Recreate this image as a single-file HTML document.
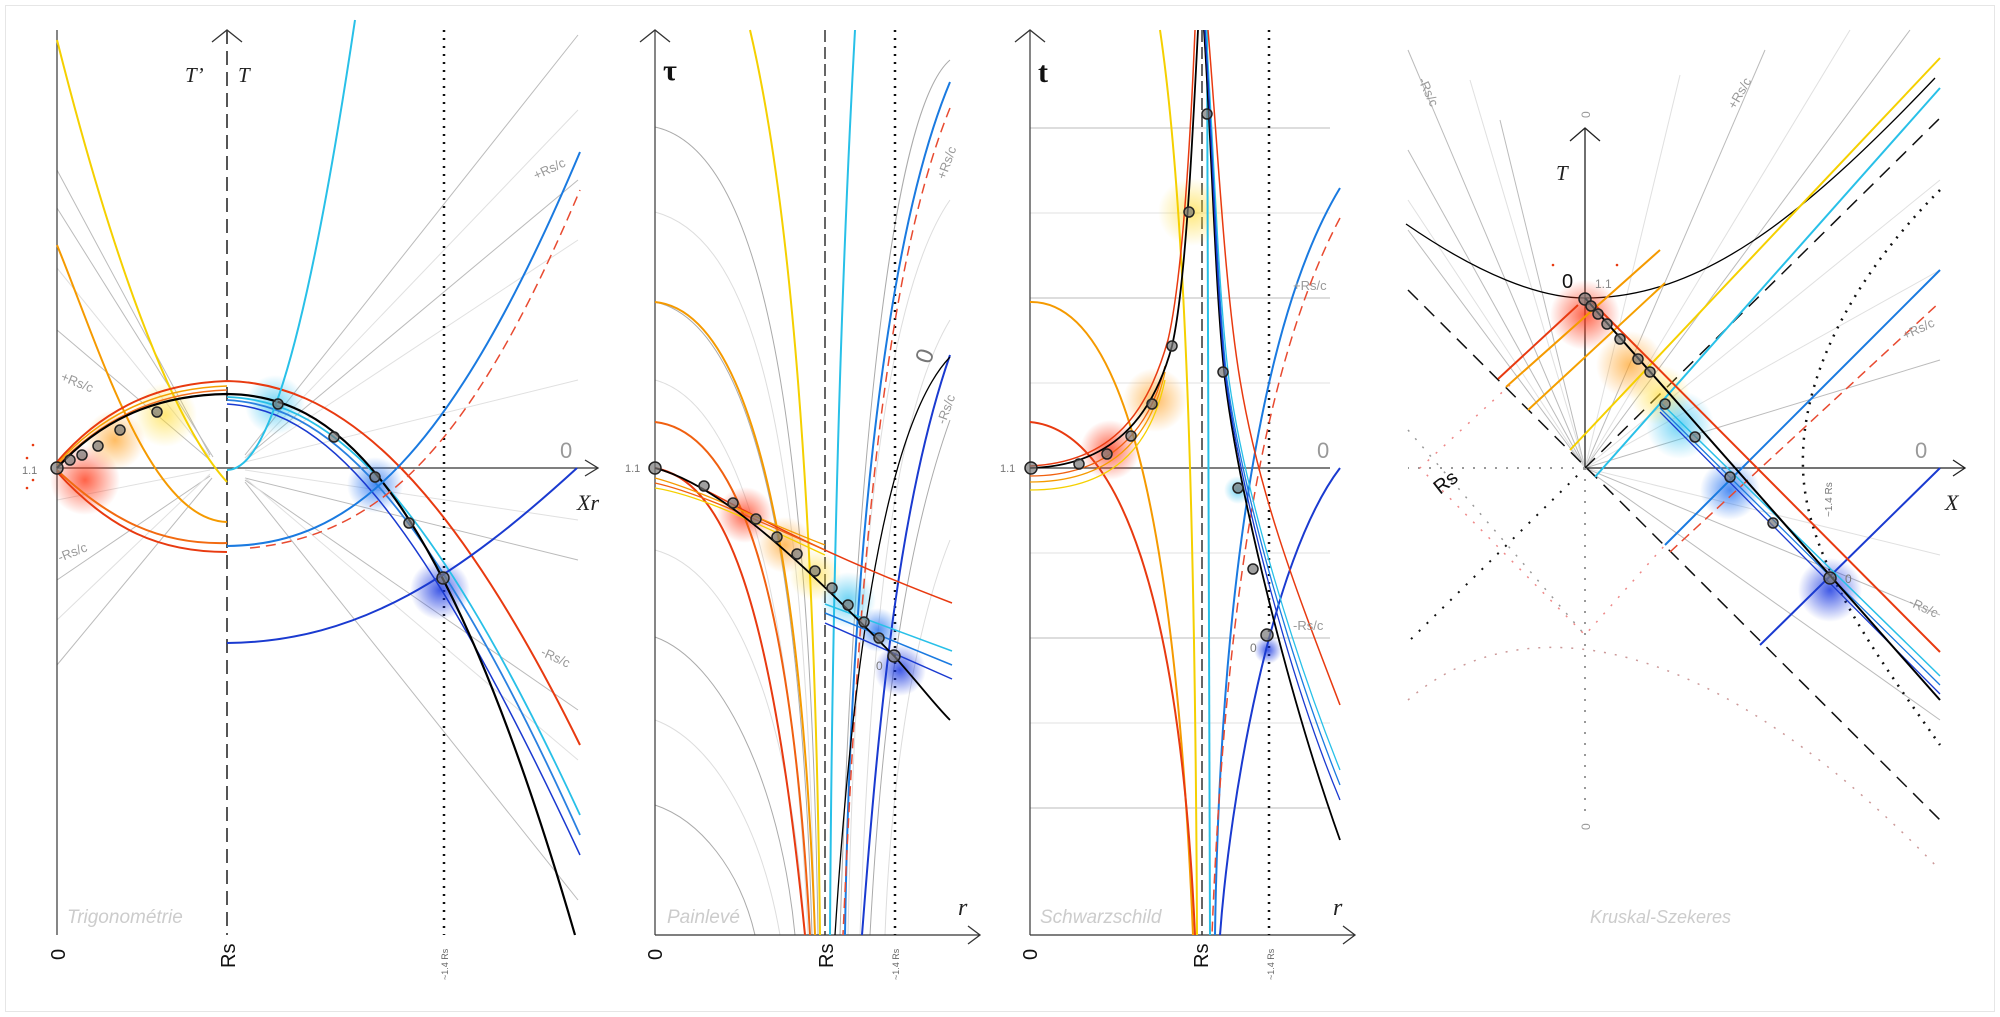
<!DOCTYPE html>
<html><head><meta charset="utf-8">
<style>
html,body{margin:0;padding:0;background:#fff;}
svg{display:block;}
text{font-family:"Liberation Sans",sans-serif;}
</style></head>
<body>
<svg width="2000" height="1017" viewBox="0 0 2000 1017" xmlns="http://www.w3.org/2000/svg">
<defs>
<radialGradient id="gr"><stop offset="0" stop-color="#ff3b1a" stop-opacity="0.8"/><stop offset="1" stop-color="#ff3b1a" stop-opacity="0"/></radialGradient>
<radialGradient id="go"><stop offset="0" stop-color="#ffa020" stop-opacity="0.7"/><stop offset="1" stop-color="#ffa020" stop-opacity="0"/></radialGradient>
<radialGradient id="gy"><stop offset="0" stop-color="#ffd820" stop-opacity="0.6"/><stop offset="1" stop-color="#ffd820" stop-opacity="0"/></radialGradient>
<radialGradient id="gc"><stop offset="0" stop-color="#30c0f0" stop-opacity="0.7"/><stop offset="1" stop-color="#30c0f0" stop-opacity="0"/></radialGradient>
<radialGradient id="gb"><stop offset="0" stop-color="#2070f0" stop-opacity="0.8"/><stop offset="1" stop-color="#2070f0" stop-opacity="0"/></radialGradient>
<radialGradient id="gd"><stop offset="0" stop-color="#1030e0" stop-opacity="0.8"/><stop offset="1" stop-color="#1030e0" stop-opacity="0"/></radialGradient>
</defs>
<rect x="5.5" y="5.5" width="1989" height="1006" fill="none" stroke="#e6e6e6"/>

<!-- ============ PANEL 1 : Trigonométrie ============ -->
<g fill="none">
 <g stroke="#bbb" stroke-width="1">
  <line x1="57" y1="170" x2="210" y2="455"/><line x1="57" y1="208" x2="213" y2="457"/>
  <line x1="57" y1="330" x2="210" y2="460"/><line x1="57" y1="580" x2="210" y2="476"/>
  <line x1="57" y1="665" x2="212" y2="478"/><line x1="245" y1="455" x2="578" y2="35"/>
  <line x1="245" y1="458" x2="578" y2="180"/><line x1="245" y1="478" x2="578" y2="560"/>
  <line x1="245" y1="482" x2="578" y2="900"/><line x1="245" y1="480" x2="578" y2="710"/>
 </g>
 <g stroke="#e0e0e0" stroke-width="1">
  <line x1="57" y1="268" x2="210" y2="457"/><line x1="57" y1="500" x2="210" y2="470"/>
  <line x1="57" y1="620" x2="210" y2="474"/><line x1="245" y1="458" x2="578" y2="110"/>
  <line x1="245" y1="460" x2="578" y2="240"/><line x1="245" y1="478" x2="578" y2="760"/>
  <line x1="245" y1="470" x2="578" y2="520"/><line x1="245" y1="462" x2="578" y2="380"/>
 </g>
 <line x1="57" y1="30" x2="57" y2="935" stroke="#444" stroke-width="1.3"/>
 <line x1="57" y1="468" x2="598" y2="468" stroke="#333" stroke-width="1.3"/>
 <polyline points="585,460 598,468 585,476" stroke="#333" stroke-width="1.3"/>
 <line x1="227" y1="30" x2="227" y2="935" stroke="#555" stroke-width="2" stroke-dasharray="14,7"/>
 <polyline points="212,42 227,30 242,42" stroke="#333" stroke-width="1.3"/>
 <line x1="444" y1="30" x2="444" y2="935" stroke="#111" stroke-width="2.5" stroke-dasharray="2,6"/>
 <circle cx="85" cy="480" r="35" fill="url(#gr)" stroke="none"/>
 <circle cx="115" cy="440" r="30" fill="url(#go)" stroke="none"/>
 <circle cx="165" cy="415" r="32" fill="url(#gy)" stroke="none"/>
 <circle cx="275" cy="405" r="30" fill="url(#gc)" stroke="none"/>
 <circle cx="375" cy="485" r="28" fill="url(#gb)" stroke="none"/>
 <circle cx="440" cy="590" r="30" fill="url(#gd)" stroke="none"/>
 <path d="M57,40 C110,250 170,420 227,482" stroke="#f5d000" stroke-width="2"/>
 <path d="M57,245 C100,350 150,520 227,522" stroke="#f59a00" stroke-width="2"/>
 <path d="M57,470 C110,520 160,545 227,543" stroke="#f26a10" stroke-width="2"/>
 <path d="M57,472 C110,530 160,552 227,552" stroke="#e83a10" stroke-width="2"/>
 <path d="M57,462 C110,400 170,383 227,381 C330,383 440,460 580,745" stroke="#e83a10" stroke-width="2"/>
 <path d="M57,464 C110,405 170,388 227,386" stroke="#f5a000" stroke-width="1.5"/>
 <path d="M57,466 C110,410 170,392 227,390" stroke="#f27020" stroke-width="1.5"/>
 <path d="M227,397 C320,400 420,470 580,815" stroke="#28c0e8" stroke-width="1.8"/>
 <path d="M227,400 C320,405 420,480 580,835" stroke="#2a80e0" stroke-width="1.8"/>
 <path d="M227,404 C320,410 410,490 580,855" stroke="#1a3ad0" stroke-width="1.5"/>
 <path d="M57,468 C110,410 170,395 227,394 C330,395 440,470 575,935" stroke="#000" stroke-width="2.2"/>
 <path d="M227,470 C260,470 300,390 355,20" stroke="#28c0e8" stroke-width="2"/>
 <path d="M227,546 C350,545 450,460 580,152" stroke="#1a7ae0" stroke-width="2"/>
 <path d="M250,548 C380,535 470,450 580,190" stroke="#e84a30" stroke-width="1.5" stroke-dasharray="10,6"/>
 <path d="M227,643 C360,642 460,575 577,468" stroke="#1a3ad0" stroke-width="2"/>
 <g stroke="#222" stroke-width="1.5" fill="#777" fill-opacity="0.7">
  <circle cx="57" cy="468" r="6"/><circle cx="70" cy="460" r="5"/><circle cx="82" cy="455" r="5"/><circle cx="98" cy="446" r="5"/><circle cx="120" cy="430" r="5"/><circle cx="157" cy="412" r="5"/>
  <circle cx="278" cy="404" r="5"/><circle cx="334" cy="437" r="5"/><circle cx="375" cy="477" r="5"/><circle cx="409" cy="523" r="5"/><circle cx="443" cy="578" r="6"/>
 </g>
 <g fill="#e83a10"><circle cx="27" cy="458" r="1.3"/><circle cx="33" cy="445" r="1.3"/><circle cx="27" cy="488" r="1.3"/><circle cx="33" cy="480" r="1.3"/></g>
</g>
<text x="22" y="474" font-size="11" fill="#777">1.1</text>
<text x="185" y="82" font-size="21" font-style="italic" fill="#222" style="font-family:'Liberation Serif',serif">T’</text>
<text x="238" y="82" font-size="21" font-style="italic" fill="#222" style="font-family:'Liberation Serif',serif">T</text>
<text x="560" y="458" font-size="22" fill="#999">0</text>
<text x="577" y="510" font-size="22" font-style="italic" fill="#222" style="font-family:'Liberation Serif',serif">Xr</text>
<text x="60" y="380" font-size="13" fill="#999" transform="rotate(22 60 380)">+Rs/c</text>
<text x="60" y="562" font-size="13" fill="#999" transform="rotate(-22 60 562)">-Rs/c</text>
<text x="536" y="180" font-size="13" fill="#999" transform="rotate(-25 536 180)">+Rs/c</text>
<text x="540" y="655" font-size="13" fill="#999" transform="rotate(25 540 655)">-Rs/c</text>
<text x="67" y="923" font-size="19" font-style="italic" fill="#ccc">Trigonométrie</text>
<text x="65" y="960" font-size="20" fill="#111" transform="rotate(-90 65 960)">0</text>
<text x="235" y="968" font-size="20" fill="#111" transform="rotate(-90 235 968)">Rs</text>
<text x="448" y="980" font-size="9" fill="#666" transform="rotate(-90 448 980)">~1.4 Rs</text>

<!-- ============ PANEL 2 : Painlevé ============ -->
<g fill="none">
 <g stroke="#aaa" stroke-width="1">
  <path d="M655,127 C760,150 810,400 818,935"/><path d="M655,302 C740,320 800,500 812,935"/>
  <path d="M655,637 C720,660 780,780 795,935"/><path d="M655,805 C700,820 740,870 755,935"/>
  <path d="M950,60 C880,120 850,600 840,935"/><path d="M950,420 C900,560 880,750 870,935"/>
 </g>
 <g stroke="#ddd" stroke-width="1">
  <path d="M655,212 C760,240 805,450 815,935"/><path d="M655,380 C730,400 790,550 808,935"/>
  <path d="M655,550 C730,570 790,700 805,935"/><path d="M655,720 C710,740 760,820 780,935"/>
  <path d="M950,200 C880,300 855,600 848,935"/><path d="M950,320 C890,420 870,650 860,935"/>
  <path d="M950,540 C910,640 890,800 885,935"/>
 </g>
 <line x1="655" y1="30" x2="655" y2="935" stroke="#444" stroke-width="1.3"/>
 <line x1="655" y1="935" x2="980" y2="935" stroke="#333" stroke-width="1.3"/>
 <polyline points="640,42 655,30 670,42" stroke="#333" stroke-width="1.3"/>
 <polyline points="968,926 980,935 968,944" stroke="#333" stroke-width="1.3"/>
 <line x1="825" y1="30" x2="825" y2="935" stroke="#333" stroke-width="1.5" stroke-dasharray="12,5"/>
 <line x1="895" y1="30" x2="895" y2="935" stroke="#111" stroke-width="2.5" stroke-dasharray="2,6"/>
 <circle cx="745" cy="515" r="28" fill="url(#gr)"/><circle cx="785" cy="545" r="28" fill="url(#go)"/>
 <circle cx="815" cy="575" r="26" fill="url(#gy)"/><circle cx="848" cy="600" r="28" fill="url(#gc)"/>
 <circle cx="878" cy="630" r="22" fill="url(#gb)"/><circle cx="900" cy="670" r="26" fill="url(#gd)"/>
 <path d="M655,468 C720,480 770,580 805,935" stroke="#e83a10" stroke-width="2"/>
 <path d="M655,422 C730,430 790,560 810,935" stroke="#f06010" stroke-width="2"/>
 <path d="M655,302 C740,310 800,500 815,935" stroke="#f59a00" stroke-width="2"/>
 <path d="M750,30 C790,200 815,500 820,935" stroke="#f5d000" stroke-width="2"/>
 <path d="M855,30 C840,300 832,600 830,935" stroke="#28c0e8" stroke-width="2"/>
 <path d="M950,82 C880,250 850,600 845,935" stroke="#1a7ae0" stroke-width="2"/>
 <path d="M950,108 C880,280 858,600 843,935" stroke="#e84a30" stroke-width="1.5" stroke-dasharray="10,6"/>
 <path d="M950,355 C900,500 880,700 862,935" stroke="#1a3ad0" stroke-width="2"/>
 <path d="M950,357 C880,430 850,700 835,935" stroke="#000" stroke-width="1.3"/>
 <path d="M655,468 C700,480 760,530 952,603" stroke="#e83a10" stroke-width="1.5"/>
 <path d="M655,478 C700,490 760,520 825,545" stroke="#f59a00" stroke-width="1.3"/>
 <path d="M655,488 C700,495 760,525 825,555" stroke="#f5d000" stroke-width="1.3"/>
 <path d="M655,483 C700,493 760,522 825,550" stroke="#f06010" stroke-width="1.3"/>
 <path d="M825,604 L952,651" stroke="#28c0e8" stroke-width="1.5"/>
 <path d="M825,613 L952,665" stroke="#1a7ae0" stroke-width="1.5"/>
 <path d="M825,623 L952,679" stroke="#1a3ad0" stroke-width="1.5"/>
 <path d="M655,468 C720,485 800,560 895,657 C920,685 935,705 950,720" stroke="#000" stroke-width="1.8"/>
 <g stroke="#222" stroke-width="1.5" fill="#777" fill-opacity="0.7">
  <circle cx="655" cy="468" r="6"/><circle cx="704" cy="486" r="5"/><circle cx="733" cy="503" r="5"/><circle cx="756" cy="519" r="5"/><circle cx="777" cy="537" r="5"/><circle cx="797" cy="554" r="5"/><circle cx="815" cy="571" r="5"/><circle cx="832" cy="588" r="5"/><circle cx="848" cy="605" r="5"/><circle cx="864" cy="622" r="5"/><circle cx="879" cy="638" r="5"/><circle cx="894" cy="656" r="6"/>
 </g>
</g>
<text x="625" y="472" font-size="11" fill="#777">1.1</text>
<text x="663" y="80" font-size="30" font-weight="bold" fill="#111" style="font-family:'Liberation Serif',serif">τ</text>
<text x="958" y="915" font-size="24" font-style="italic" fill="#222" style="font-family:'Liberation Serif',serif">r</text>
<text x="930" y="365" font-size="24" fill="#777" transform="rotate(-70 930 365)">0</text>
<text x="945" y="180" font-size="13" fill="#999" transform="rotate(-70 945 180)">+Rs/c</text>
<text x="945" y="425" font-size="13" fill="#999" transform="rotate(-70 945 425)">-Rs/c</text>
<text x="876" y="670" font-size="12" fill="#777">0</text>
<text x="667" y="923" font-size="19" font-style="italic" fill="#ccc">Painlevé</text>
<text x="662" y="960" font-size="20" fill="#111" transform="rotate(-90 662 960)">0</text>
<text x="833" y="968" font-size="20" fill="#111" transform="rotate(-90 833 968)">Rs</text>
<text x="899" y="980" font-size="9" fill="#666" transform="rotate(-90 899 980)">~1.4 Rs</text>

<!-- ============ PANEL 3 : Schwarzschild ============ -->
<g fill="none">
 <g stroke="#bbb" stroke-width="1">
  <line x1="1030" y1="128" x2="1330" y2="128"/><line x1="1030" y1="298" x2="1330" y2="298"/>
  <line x1="1030" y1="638" x2="1330" y2="638"/><line x1="1030" y1="808" x2="1330" y2="808"/>
 </g>
 <g stroke="#e2e2e2" stroke-width="1">
  <line x1="1030" y1="213" x2="1330" y2="213"/><line x1="1030" y1="383" x2="1330" y2="383"/>
  <line x1="1030" y1="553" x2="1330" y2="553"/><line x1="1030" y1="723" x2="1330" y2="723"/>
 </g>
 <line x1="1030" y1="30" x2="1030" y2="935" stroke="#444" stroke-width="1.3"/>
 <line x1="1030" y1="935" x2="1355" y2="935" stroke="#333" stroke-width="1.3"/>
 <line x1="1030" y1="468" x2="1330" y2="468" stroke="#333" stroke-width="1.2"/>
 <polyline points="1015,42 1030,30 1045,42" stroke="#333" stroke-width="1.3"/>
 <polyline points="1343,926 1355,935 1343,944" stroke="#333" stroke-width="1.3"/>
 <line x1="1202" y1="30" x2="1202" y2="935" stroke="#333" stroke-width="1.5" stroke-dasharray="12,5"/>
 <line x1="1269" y1="30" x2="1269" y2="935" stroke="#111" stroke-width="2.5" stroke-dasharray="2,6"/>
 <circle cx="1110" cy="450" r="30" fill="url(#gr)"/><circle cx="1155" cy="400" r="32" fill="url(#go)"/>
 <circle cx="1192" cy="212" r="34" fill="url(#gy)"/><circle cx="1238" cy="490" r="14" fill="url(#gc)"/>
 <circle cx="1268" cy="650" r="14" fill="url(#gd)"/>
 <path d="M1030,302 C1120,300 1175,500 1193,935" stroke="#f59a00" stroke-width="2"/>
 <path d="M1030,422 C1120,430 1180,600 1195,935" stroke="#e83a10" stroke-width="2"/>
 <path d="M1030,490 C1110,490 1150,450 1165,380" stroke="#f5d000" stroke-width="1.3"/>
 <path d="M1030,482 C1110,482 1150,440 1165,372" stroke="#f59a00" stroke-width="1.3"/>
 <path d="M1030,476 C1110,476 1150,430 1165,366" stroke="#f06010" stroke-width="1.3"/>
 <path d="M1160,30 C1185,200 1195,500 1197,935" stroke="#f5d000" stroke-width="2"/>
 <path d="M1207,30 C1208,300 1209,600 1210,935" stroke="#28c0e8" stroke-width="2"/>
 <path d="M1340,188 C1260,320 1220,600 1215,935" stroke="#1a7ae0" stroke-width="2"/>
 <path d="M1340,218 C1265,360 1225,600 1212,935" stroke="#e84a30" stroke-width="1.5" stroke-dasharray="10,6"/>
 <path d="M1340,468 C1270,560 1230,800 1220,935" stroke="#1a3ad0" stroke-width="2"/>
 <path d="M1030,466 C1115,462 1148,410 1168,340 C1182,280 1190,150 1195,30" stroke="#e83a10" stroke-width="1.5"/>
 <path d="M1030,468 C1110,466 1152,420 1172,346 C1185,290 1192,150 1198,30" stroke="#000" stroke-width="1.8"/>
 <path d="M1204,30 C1212,150 1215,290 1225,380 C1240,500 1290,700 1340,840" stroke="#000" stroke-width="1.8"/>
 <path d="M1208,30 C1218,150 1225,290 1240,380 C1260,500 1300,600 1340,705" stroke="#e83a10" stroke-width="1.5"/>
 <path d="M1206,30 C1214,150 1218,290 1229,380 C1246,500 1296,660 1340,770" stroke="#28c0e8" stroke-width="1.3"/>
 <path d="M1205,30 C1213,150 1217,290 1227,380 C1244,500 1294,670 1340,785" stroke="#1a7ae0" stroke-width="1.3"/>
 <path d="M1205,30 C1213,150 1216,290 1226,380 C1242,500 1292,685 1340,800" stroke="#1a3ad0" stroke-width="1.3"/>
 <g stroke="#222" stroke-width="1.5" fill="#777" fill-opacity="0.7">
  <circle cx="1031" cy="468" r="6"/><circle cx="1079" cy="464" r="5"/><circle cx="1107" cy="454" r="5"/><circle cx="1131" cy="436" r="5"/><circle cx="1152" cy="404" r="5"/><circle cx="1172" cy="346" r="5"/><circle cx="1189" cy="212" r="5"/><circle cx="1207" cy="114" r="5"/>
  <circle cx="1223" cy="372" r="5"/><circle cx="1238" cy="488" r="5"/><circle cx="1253" cy="569" r="5"/><circle cx="1267" cy="635" r="6"/>
 </g>
</g>
<text x="1000" y="472" font-size="11" fill="#777">1.1</text>
<text x="1038" y="82" font-size="30" font-weight="bold" fill="#111" style="font-family:'Liberation Serif',serif">t</text>
<text x="1333" y="915" font-size="24" font-style="italic" fill="#222" style="font-family:'Liberation Serif',serif">r</text>
<text x="1317" y="458" font-size="22" fill="#999">0</text>
<text x="1293" y="290" font-size="13" fill="#999">+Rs/c</text>
<text x="1293" y="630" font-size="13" fill="#999">-Rs/c</text>
<text x="1250" y="652" font-size="12" fill="#777">0</text>
<text x="1040" y="923" font-size="19" font-style="italic" fill="#ccc">Schwarzschild</text>
<text x="1037" y="960" font-size="20" fill="#111" transform="rotate(-90 1037 960)">0</text>
<text x="1208" y="968" font-size="20" fill="#111" transform="rotate(-90 1208 968)">Rs</text>
<text x="1274" y="980" font-size="9" fill="#666" transform="rotate(-90 1274 980)">~1.4 Rs</text>

<!-- ============ PANEL 4 : Kruskal-Szekeres ============ -->
<g fill="none">
 <g stroke="#bbb" stroke-width="1">
  <line x1="1585" y1="468" x2="1408" y2="50"/><line x1="1585" y1="468" x2="1500" y2="120"/>
  <line x1="1585" y1="468" x2="1765" y2="50"/><line x1="1585" y1="468" x2="1910" y2="30"/>
  <line x1="1585" y1="468" x2="1408" y2="150"/><line x1="1585" y1="468" x2="1940" y2="360"/>
  <line x1="1585" y1="468" x2="1940" y2="615"/><line x1="1585" y1="468" x2="1940" y2="720"/>
  <line x1="1585" y1="468" x2="1408" y2="230"/>
 </g>
 <g stroke="#e0e0e0" stroke-width="1">
  <line x1="1585" y1="468" x2="1470" y2="80"/><line x1="1585" y1="468" x2="1680" y2="75"/>
  <line x1="1585" y1="468" x2="1850" y2="30"/><line x1="1585" y1="468" x2="1940" y2="180"/>
  <line x1="1585" y1="468" x2="1940" y2="270"/><line x1="1585" y1="468" x2="1940" y2="555"/>
  <line x1="1585" y1="468" x2="1408" y2="200"/>
 </g>
 <line x1="1585" y1="468" x2="1585" y2="128" stroke="#222" stroke-width="1.3"/>
 <polyline points="1570,141 1585,128 1600,141" stroke="#222" stroke-width="1.3"/>
 <line x1="1585" y1="468" x2="1965" y2="468" stroke="#222" stroke-width="1.3"/>
 <polyline points="1953,460 1965,468 1953,476" stroke="#222" stroke-width="1.3"/>
 <path d="M1406,224 C1480,275 1540,298 1585,298 C1700,298 1800,220 1935,78" stroke="#000" stroke-width="1.3"/>
 <line x1="1408" y1="290" x2="1940" y2="820" stroke="#111" stroke-width="1.5" stroke-dasharray="14,9"/>
 <line x1="1585" y1="468" x2="1940" y2="118" stroke="#111" stroke-width="1.5" stroke-dasharray="14,9"/>
 <path d="M1940,190 C1850,280 1800,380 1803,468 C1805,560 1880,660 1940,745" stroke="#111" stroke-width="2.5" stroke-dasharray="2,7"/>
 <line x1="1585" y1="468" x2="1405" y2="645" stroke="#111" stroke-width="2" stroke-dasharray="2,9"/>
 <line x1="1585" y1="468" x2="1408" y2="468" stroke="#999" stroke-width="2" stroke-dasharray="2,9"/>
 <line x1="1585" y1="468" x2="1585" y2="815" stroke="#999" stroke-width="2" stroke-dasharray="2,9"/>
 <line x1="1408" y1="430" x2="1585" y2="635" stroke="#999" stroke-width="1.5" stroke-dasharray="2,9"/>
 <path d="M1408,700 C1500,620 1680,600 1940,870" stroke="#c99" stroke-width="1.5" stroke-dasharray="2,9"/>
 <path d="M1510,385 L1420,468 L1585,635 L1665,545" stroke="#e88" stroke-width="1.5" stroke-dasharray="2,9"/>
 <circle cx="1585" cy="315" r="35" fill="url(#gr)"/><circle cx="1630" cy="365" r="34" fill="url(#go)"/>
 <circle cx="1660" cy="395" r="30" fill="url(#gy)"/><circle cx="1680" cy="425" r="34" fill="url(#gc)"/>
 <circle cx="1730" cy="490" r="30" fill="url(#gb)"/><circle cx="1830" cy="590" r="32" fill="url(#gd)"/>
 <line x1="1498" y1="379" x2="1578" y2="305" stroke="#e83a10" stroke-width="2"/>
 <line x1="1506" y1="387" x2="1660" y2="250" stroke="#f59a00" stroke-width="2"/>
 <line x1="1528" y1="410" x2="1665" y2="283" stroke="#f5a000" stroke-width="2"/>
 <line x1="1570" y1="450" x2="1940" y2="58" stroke="#f5d000" stroke-width="2"/>
 <line x1="1595" y1="477" x2="1940" y2="88" stroke="#28c0e8" stroke-width="2"/>
 <line x1="1665" y1="545" x2="1940" y2="270" stroke="#1a7ae0" stroke-width="2"/>
 <line x1="1670" y1="552" x2="1940" y2="302" stroke="#e84a30" stroke-width="1.5" stroke-dasharray="10,6"/>
 <line x1="1760" y1="645" x2="1940" y2="468" stroke="#1a3ad0" stroke-width="2"/>
 <line x1="1590" y1="300" x2="1940" y2="652" stroke="#e83a10" stroke-width="2"/>
 <line x1="1660" y1="402" x2="1940" y2="676" stroke="#28c0e8" stroke-width="1.5"/>
 <line x1="1660" y1="408" x2="1940" y2="685" stroke="#1a7ae0" stroke-width="1.3"/>
 <line x1="1660" y1="412" x2="1940" y2="694" stroke="#1a3ad0" stroke-width="1.3"/>
 <path d="M1585,298 L1940,700" stroke="#000" stroke-width="2"/>
 <g stroke="#222" stroke-width="1.5" fill="#777" fill-opacity="0.7">
  <circle cx="1585" cy="299" r="6"/><circle cx="1591" cy="306" r="5"/><circle cx="1598" cy="314" r="5"/><circle cx="1607" cy="324" r="5"/><circle cx="1620" cy="339" r="5"/><circle cx="1638" cy="359" r="5"/><circle cx="1650" cy="372" r="5"/><circle cx="1665" cy="404" r="5"/><circle cx="1695" cy="437" r="5"/><circle cx="1730" cy="477" r="5"/><circle cx="1773" cy="523" r="5"/><circle cx="1830" cy="578" r="6"/>
 </g>
 <g fill="#e83a10"><circle cx="1553" cy="265" r="1.3"/><circle cx="1617" cy="265" r="1.3"/></g>
</g>
<text x="1562" y="288" font-size="20" fill="#111">0</text>
<text x="1595" y="288" font-size="12" fill="#888">1.1</text>
<text x="1556" y="180" font-size="21" font-style="italic" fill="#222" style="font-family:'Liberation Serif',serif">T</text>
<text x="1945" y="510" font-size="22" font-style="italic" fill="#222" style="font-family:'Liberation Serif',serif">X</text>
<text x="1915" y="458" font-size="22" fill="#999">0</text>
<text x="1590" y="118" font-size="12" fill="#999" transform="rotate(-90 1590 118)">0</text>
<text x="1590" y="830" font-size="12" fill="#999" transform="rotate(-90 1590 830)">0</text>
<text x="1440" y="495" font-size="20" fill="#111" transform="rotate(-38 1440 495)">Rs</text>
<text x="1418" y="80" font-size="13" fill="#999" transform="rotate(65 1418 80)">-Rs/c</text>
<text x="1735" y="110" font-size="13" fill="#999" transform="rotate(-60 1735 110)">+Rs/c</text>
<text x="1905" y="340" font-size="13" fill="#999" transform="rotate(-25 1905 340)">+Rs/c</text>
<text x="1908" y="605" font-size="13" fill="#999" transform="rotate(25 1908 605)">-Rs/c</text>
<text x="1832" y="517" font-size="10" fill="#777" transform="rotate(-90 1832 517)">~1.4 Rs</text>
<text x="1845" y="583" font-size="12" fill="#777">0</text>
<text x="1590" y="923" font-size="18" font-style="italic" fill="#ccc">Kruskal-Szekeres</text>
</svg>
</body></html>
